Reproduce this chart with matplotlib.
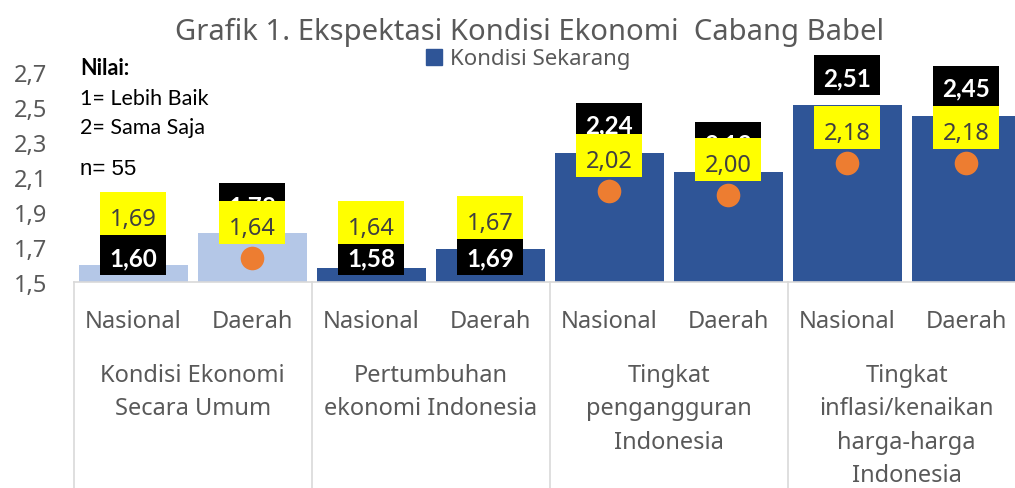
import numpy as np
import matplotlib
matplotlib.use("Agg")
import matplotlib.pyplot as plt
from matplotlib.patches import Rectangle
from matplotlib.lines import Line2D

plt.rcParams['font.family'] = ['Noto Sans', 'DejaVu Sans']

# data
sub_labels = ['Nasional', 'Daerah'] * 4
group_labels = ['Kondisi Ekonomi\nSecara Umum',
                'Pertumbuhan\nekonomi Indonesia',
                'Tingkat\npengangguran\nIndonesia',
                'Tingkat\ninflasi/kenaikan\nharga-harga\nIndonesia']
kondisi_sekarang = [1.60, 1.78, 1.58, 1.69, 2.24, 2.13, 2.51, 2.45]
ekspektasi = [1.69, 1.64, 1.64, 1.67, 2.02, 2.00, 2.18, 2.18]
y_ticks = [1.5, 1.7, 1.9, 2.1, 2.3, 2.5, 2.7]

W, H = 1015, 489
LIGHT = '#B4C7E7'
DARK = '#2F5597'
ORANGE = '#ED7D31'
GRID = '#D9D9D9'
TXT = '#595959'

fig = plt.figure(figsize=(W / 100, H / 100), dpi=100)
# plot area: x from 73.7px (runs past the right edge), 1.5 at y=283.3px, 2.7 at y=73px
ax = fig.add_axes([73.7 / W, (H - 283.3) / H, 952 / W, 210.3 / H])
ax.set_xlim(-0.5, 7.5)
ax.set_ylim(1.5, 2.7)

x = np.arange(len(kondisi_sekarang))
bar_colors = [LIGHT] * 2 + [DARK] * 6
ax.bar(x, kondisi_sekarang, width=0.916, color=bar_colors, zorder=2)
ax.plot(x, ekspektasi, 'o', color=ORANGE, ms=17, mec='none', zorder=3)

# pixel -> data helpers
ppx = ax.bbox.width / 8.0
ppy = ax.bbox.height / 1.2
bw, bh_black, bh_yel = 66 / ppx, 40 / ppy, 43 / ppy

def fmt(v):
    return f"{v:.2f}".replace('.', ',')

# black labels (bar values); low bars get pushed to the bottom of the plot
for xi, v in zip(x, kondisi_sekarang):
    if v < 1.75:
        bottom = 1.5 + (283.3 - 276) / ppy
    else:
        bottom = v + 30 / ppy - bh_black / 2
    ax.add_patch(Rectangle((xi - bw / 2, bottom), bw, bh_black, facecolor='black',
                           edgecolor='none', zorder=4, clip_on=False))
    ax.text(xi, bottom + 10 / ppy, fmt(v), ha='center', va='baseline', color='white',
            family=['Lato', 'DejaVu Sans'], fontsize=17.5, fontweight='bold',
            zorder=5, clip_on=False)

# yellow labels (expectation values) sit above the orange dots
for xi, v in zip(x, ekspektasi):
    bottom = v + 35.5 / ppy - bh_yel / 2
    ax.add_patch(Rectangle((xi - bw / 2, bottom), bw, bh_yel, facecolor='#FFFF00',
                           edgecolor='none', zorder=6, clip_on=False))
    ax.text(xi, bottom + 10 / ppy, fmt(v), ha='center', va='baseline', color='#404040',
            fontsize=17, zorder=7, clip_on=False)

# axes styling
for s in ['top', 'right', 'left']:
    ax.spines[s].set_visible(False)
ax.spines['bottom'].set_color(GRID)
ax.spines['bottom'].set_linewidth(1.2)
ax.set_yticks(y_ticks)
ax.set_yticklabels([f"{t:.1f}".replace('.', ',') for t in y_ticks])
ax.tick_params(axis='y', length=0, pad=19, labelsize=17, labelcolor=TXT)
ax.set_xticks([])

# multi-level category axis
tr = ax.get_xaxis_transform()
def yax(px):
    return -(px - 283.3) / ax.bbox.height

for xb in [-0.5, 1.5, 3.5, 5.5, 7.5]:
    ax.plot([xb, xb], [0, yax(H)], transform=tr, color=GRID, lw=1.2, clip_on=False)
for xi, lab in zip(x, sub_labels):
    ax.text(xi, yax(328), lab, transform=tr, ha='center', va='baseline',
            fontsize=17, color=TXT)
for gi, lab in enumerate(group_labels):
    for li, line in enumerate(lab.split('\n')):
        ax.text(2 * gi + 0.5, yax(381.7 + 33.5 * li), line, transform=tr,
                ha='center', va='baseline', fontsize=17, color=TXT, clip_on=False)

# title and legend
fig.text(530 / W, 1 - 40 / H, 'Grafik 1. Ekspektasi Kondisi Ekonomi  Cabang Babel',
         ha='center', va='baseline', fontsize=21, color=TXT)
handle = Line2D([], [], marker='s', linestyle='none', color=DARK, ms=11)
fig.legend([handle], ['Kondisi Sekarang'], loc='center left',
           bbox_to_anchor=(414 / W, 1 - 60 / H), frameon=False, fontsize=16,
           handlelength=0.8, handletextpad=0.3, borderpad=0, labelcolor=TXT)

# notes in the top-left corner
fig.text(80 / W, 1 - 75 / H, 'Nilai:', family=['Lato', 'DejaVu Sans'],
         fontweight='bold', fontsize=15.5, va='baseline')
fig.text(80 / W, 1 - 105 / H, '1= Lebih Baik', family=['Lato', 'DejaVu Sans'],
         fontsize=15.5, va='baseline')
fig.text(80 / W, 1 - 134 / H, '2= Sama Saja', family=['Lato', 'DejaVu Sans'],
         fontsize=15.5, va='baseline')
fig.text(80 / W, 1 - 175 / H, 'n= 55', family=['Liberation Sans', 'DejaVu Sans'],
         fontsize=16, va='baseline')

fig.savefig('out.png', dpi=100)
